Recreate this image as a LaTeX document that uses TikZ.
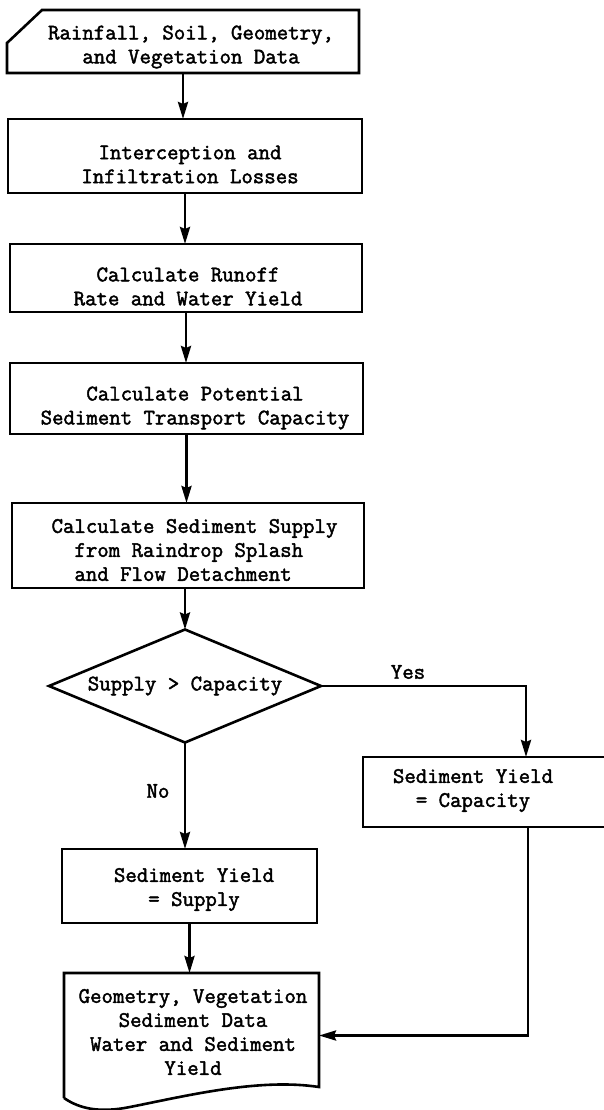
\documentclass[tikz,border=0pt]{standalone}
\usepackage{fontspec}
\newfontfamily\tw{Latin Modern Mono}[FakeBold=2]
\usetikzlibrary{shapes.geometric,arrows.meta,calc}
\begin{document}
\begin{tikzpicture}[x=1pt,y=-1pt,
  line join=miter,
  boxline/.style={draw=black,line width=2.6pt},
  box/.style={rectangle,boxline,inner sep=0pt,outer sep=0pt},
  hidden/.style={rectangle,draw=none,inner sep=0pt,outer sep=0pt},
  txt/.style={font=\tw\fontsize{22.2}{24}\selectfont,align=center,inner sep=0pt},
  lbl/.style={font=\tw\fontsize{22.2}{24}\selectfont,inner sep=0pt},
  arr/.style={line width=2.8pt,-{Stealth[length=17pt,width=10pt,inset=2pt]}}
]
\useasboundingbox (0,0) rectangle (604,1110);
\fill[white] (0,0) rectangle (604,1110);

% input card
\node[hidden,minimum width=352pt,minimum height=63pt] (b1) at (183,41.5) {};
\draw[boxline] ($(b1.north west)+(35pt,0pt)$) -- (b1.north east) -- (b1.south east)
  -- (b1.south west) -- ($(b1.north west)+(0pt,-33pt)$) -- cycle;
\node[txt] (t1) at (191,47) {Rainfall, Soil, Geometry,\\and Vegetation Data};

% process boxes
\node[box,minimum width=354pt,minimum height=74pt] (b2) at (185,156) {};
\node[txt] (t2) at (190,164.5) {Interception and\\Infiltration Losses};

\node[box,minimum width=352pt,minimum height=68pt] (b3) at (186,278) {};
\node[txt] (t3) at (188,286.5) {Calculate Runoff\\Rate and Water Yield};

\node[box,minimum width=353pt,minimum height=71pt] (b4) at (186.5,398.5) {};
\node[txt] (t4) at (195,408) {Calculate Potential\\Sediment Transport Capacity};

\node[box,minimum width=352pt,minimum height=85pt] (b5) at (188,545.5) {};
\node[txt,align=left] (t5) at (194.5,550) {Calculate Sediment Supply\\\phantom{xx}from Raindrop Splash\\\phantom{xx}and Flow Detachment};

% decision
\node[diamond,aspect=2.4,boxline,inner sep=0pt,outer sep=0pt,minimum width=272pt,minimum height=113pt,txt] (b6) at (185,686) {Supply > Capacity};

% outcomes
\node[box,minimum width=255pt,minimum height=74pt] (b7) at (189.5,886) {};
\node[txt] (t7) at (194,889.5) {Sediment Yield\\= Supply};

\node[hidden,minimum width=241pt,minimum height=70pt] (b8) at (483.5,792) {};
\draw[boxline] (b8.north east) -- (b8.north west) -- (b8.south west) -- (b8.south east);
\node[txt] (t8) at (473,790.5) {Sediment Yield\\= Capacity};

% output document
\node[hidden,minimum width=255pt,minimum height=125pt] (b9) at (191.5,1035.5) {};
\draw[boxline] (b9.south west) -- (b9.north west) -- (b9.north east) -- ($(b9.south east)+(0pt,11pt)$)
  .. controls (260,1078) and (190,1095) .. (130,1107)
  .. controls (100,1113) and (80,1109) .. (b9.south west);
\node[txt] (t9) at (193,1032) {Geometry, Vegetation\\Sediment Data\\Water and Sediment\\Yield};

% connectors
\draw[arr] (b1.south) -- (b1.south |- b2.north);
\draw[arr] (b2.south) -- (b2.south |- b3.north);
\draw[arr] (b3.south) -- (b3.south |- b4.north);
\draw[arr] (b4.south) -- (b4.south |- b5.north);
\draw[arr] (b6.north |- b5.south) -- (b6.north);
\draw[arr] (b6.south) -- (b6.south |- b7.north);
\draw[arr] (b7.south) -- (b7.south |- b9.north);

\coordinate (k1) at ($(b8.north west)+(163pt,0pt)$);
\draw[arr] (b6.east) -| (k1);
\coordinate (k2) at ($(b8.south west)+(165pt,0pt)$);
\draw[arr] (k2) |- (b9.east);

\node[lbl] (yes) at (408,672) {Yes};
\node[lbl] (no) at (158,791) {No};
\end{tikzpicture}
\end{document}
